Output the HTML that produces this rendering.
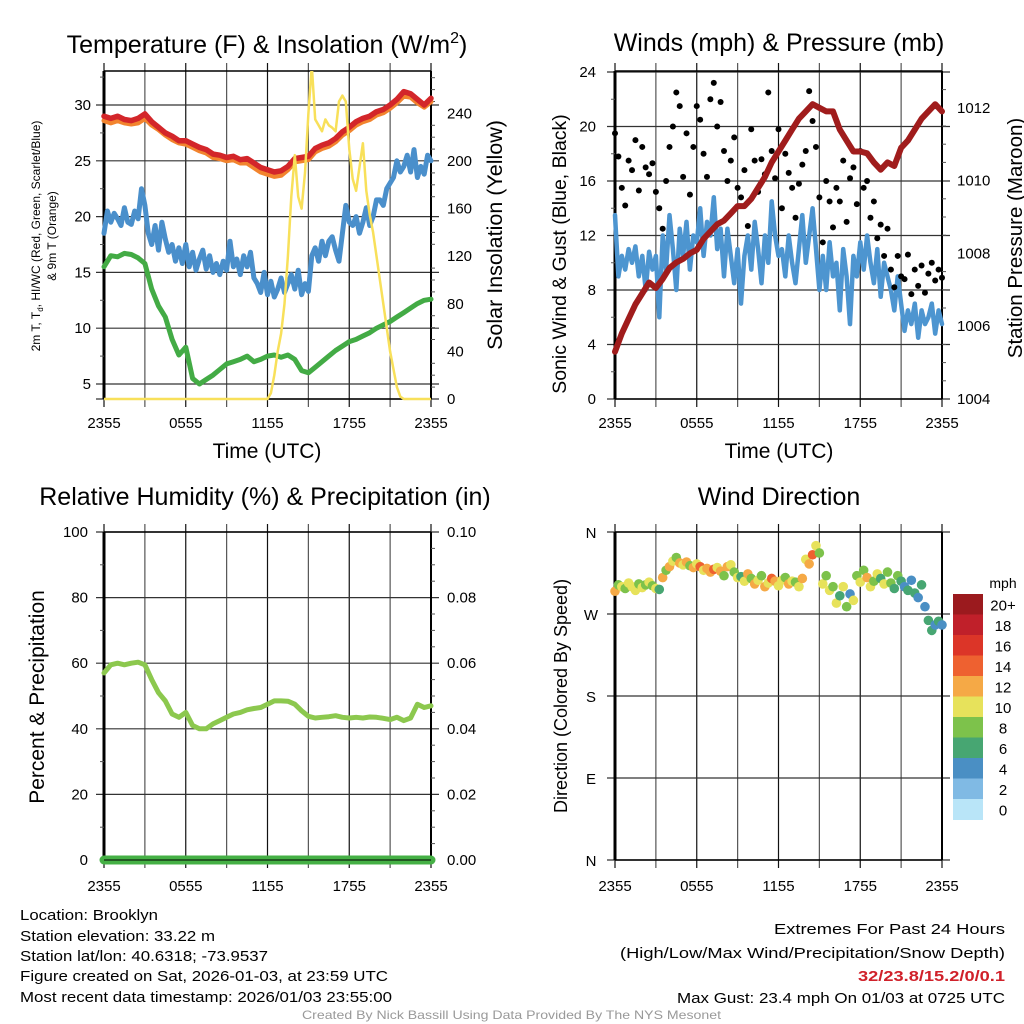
<!DOCTYPE html>
<html><head><meta charset="utf-8"><style>
html,body{margin:0;padding:0;background:#fff;}
svg{display:block;font-family:"Liberation Sans",sans-serif;}
</style></head><body>
<svg id="chart" width="1024" height="1024" viewBox="0 0 1024 1024" xmlns="http://www.w3.org/2000/svg">
<defs>
<clipPath id="clip1"><rect x="104" y="71" width="327" height="330"/></clipPath>
</defs>
<rect width="1024" height="1024" fill="#fff"/>
<g id="p1"></g>
<g id="p2"></g>
<g id="p3"></g>
<g id="p4"></g>

<text x="267" y="53" font-size="25" text-anchor="middle">Temperature (F) &amp; Insolation (W/m<tspan font-size="16" dy="-10">2</tspan><tspan dy="10">)</tspan></text>
<text x="779" y="51" font-size="25" text-anchor="middle">Winds (mph) &amp; Pressure (mb)</text>
<text x="265" y="505" font-size="25" text-anchor="middle">Relative Humidity (%) &amp; Precipitation (in)</text>
<text x="779" y="505" font-size="25" text-anchor="middle">Wind Direction</text>

<text x="267" y="458" font-size="21" text-anchor="middle">Time (UTC)</text>
<text x="779" y="458" font-size="21" text-anchor="middle">Time (UTC)</text>

<text transform="translate(40,236) rotate(-90)" font-size="12" text-anchor="middle">2m T, T<tspan font-size="8" dy="3">d</tspan><tspan dy="-3">, HI/WC (Red, Green, Scarlet/Blue)</tspan></text>
<text transform="translate(56,236) rotate(-90)" font-size="12" text-anchor="middle">&amp; 9m T (Orange)</text>
<text transform="translate(502,235) rotate(-90)" font-size="21.5" text-anchor="middle">Solar Insolation (Yellow)</text>
<text transform="translate(566,254) rotate(-90)" font-size="19.5" text-anchor="middle">Sonic Wind &amp; Gust (Blue, Black)</text>
<text transform="translate(1022,238) rotate(-90)" font-size="20.5" text-anchor="middle">Station Pressure (Maroon)</text>
<text transform="translate(44,697) rotate(-90)" font-size="21" text-anchor="middle">Percent &amp; Precipitation</text>
<text transform="translate(567,696) rotate(-90)" font-size="18" text-anchor="middle">Direction (Colored By Speed)</text>

<g id="cbar"></g>
<text x="1003" y="588" font-size="14" text-anchor="middle">mph</text>

<g font-size="15">
<text x="20" y="920" textLength="138" lengthAdjust="spacingAndGlyphs">Location: Brooklyn</text>
<text x="20" y="941" textLength="195" lengthAdjust="spacingAndGlyphs">Station elevation: 33.22 m</text>
<text x="20" y="961" textLength="248" lengthAdjust="spacingAndGlyphs">Station lat/lon: 40.6318; -73.9537</text>
<text x="20" y="981" textLength="368" lengthAdjust="spacingAndGlyphs">Figure created on Sat, 2026-01-03, at 23:59 UTC</text>
<text x="20" y="1002" textLength="372" lengthAdjust="spacingAndGlyphs">Most recent data timestamp: 2026/01/03 23:55:00</text>
</g>
<g font-size="15">
<text x="774" y="934" textLength="231" lengthAdjust="spacingAndGlyphs">Extremes For Past 24 Hours</text>
<text x="620" y="958" textLength="385" lengthAdjust="spacingAndGlyphs">(High/Low/Max Wind/Precipitation/Snow Depth)</text>
<text x="858" y="981" textLength="147" lengthAdjust="spacingAndGlyphs" fill="#d0212a" font-weight="bold">32/23.8/15.2/0/0.1</text>
<text x="677" y="1003" textLength="328" lengthAdjust="spacingAndGlyphs">Max Gust: 23.4 mph On 01/03 at 0725 UTC</text>
</g>
<text x="302" y="1019" font-size="12" textLength="419" lengthAdjust="spacingAndGlyphs" fill="#999">Created By Nick Bassill Using Data Provided By The NYS Mesonet</text>
</svg>
<script>
// ---- data (half-hourly unless noted) ----
const xTickLabels = ["2355","0555","1155","1755","2355"];
const tempRed = [29,28.8,29,28.7,28.6,28.8,29.2,28.5,28,27.5,27.2,26.8,26.8,26.5,26.2,26,25.6,25.5,25.3,25.4,25.1,25.2,24.8,24.4,24.2,24,24.1,24.5,25.2,25.3,25.4,26.1,26.4,26.6,27,27.6,28,28.5,28.8,29,29.4,29.6,30,30.5,31.2,31,30.5,30,30.6];
const temp9m = [28.6,28.4,28.6,28.4,28.3,28.4,28.8,28.2,27.8,27.3,26.9,26.6,26.5,26.2,25.9,25.7,25.3,25.2,25,25.1,24.8,24.8,24.4,24,23.8,23.6,23.7,24.2,24.9,25,25.1,25.8,26.1,26.3,26.7,27.3,27.7,28.2,28.5,28.7,29.1,29.3,29.7,30.2,30.8,30.7,30.2,29.8,30.3];
const dewGreen = [15.5,16.5,16.4,16.7,16.6,16.3,15.8,13.5,12,11,9,7.6,8.3,5.5,5,5.4,5.8,6.3,6.8,7,7.2,7.5,7,7.2,7.5,7.6,7.4,7.6,7.2,6.2,6,6.5,7,7.5,8,8.4,8.8,9,9.3,9.6,10,10.3,10.6,11,11.4,11.8,12.2,12.5,12.6];
// quarter-hourly
const hiwcBlue = [18.5,20.5,19.5,20.3,19.8, 19.2,20.8,19.5,19.3, 20.5,19.8,22.5,21, 18.5,17.5,19.2,17, 19.5,18,16.8,17.5, 16,17.2,15.8,17.5, 15.5,16.8,15.2,16.2, 17,15.3,16.5,15, 15.8,14.8,16,15.2, 17.8,15.5,16.2,14.8, 16.5,15.5,16.8,14.5, 14,13.2,15,13, 14.2,12.8,13.5,14.5, 13.2,14,14.8,13.5, 15.2,13,14,13.3, 16.5,17.2,16,17.8, 16.5,17.8,18.2,17, 16,18.5,21,19.5, 19.2,20,18.5,19.5, 20.8,19.2,20,21.5, 21.5,21,22.5,23, 23.5,25,24,24.5, 25.5,24,26,23.5, 24.5,23.8,25.5,25];
const solar = [0,0,0,0,0,0,0,0,0,0,0,0,0,0,0,0,0,0,0,0,0,0,0,0,0,0,0,0,0,0,0,0,0,0,0,0,0,0,0,0,0,0,0,0,0,0,0,0, 0,5,20,40,55,80,120,170,205,170,160,190,240,280,235,230,225,235,230,228,225,250,255,250,210,185,175,195,215,175,155,140,120,100,80,60,40,25,10,2,0,0,0,0,0,0,0,0,0];
const pressure = [1005.3,1005.8,1006.2,1006.6,1006.9,1007.2,1007.05,1007.3,1007.6,1007.75,1007.85,1008,1008.1,1008.4,1008.6,1008.8,1008.9,1009.1,1009.3,1009.3,1009.5,1009.8,1010.1,1010.5,1010.8,1011.1,1011.4,1011.7,1011.9,1012.1,1012,1011.9,1011.9,1011.4,1011.1,1010.8,1010.8,1010.75,1010.5,1010.3,1010.5,1010.4,1010.9,1011.1,1011.4,1011.7,1011.9,1012.1,1011.9];
const windSpeed = [13.5,9,10.5,9.5,11, 10,11.2,9,10.5, 8,10.8,9.5,10.5, 6,12,9.5,13.5, 11,8,12.5,10.5, 13,9.5,12,11.5, 14,10.5,13,12, 14.8,11,12.5,9, 12.5,10.5,8.5,11, 7,10.5,12,9.5, 13,11,8.5,12, 10,14.5,12,10.5, 11,9,12,10, 8.5,11,13.5,10, 12,14,11,8, 10.5,8,11.5,9, 10,6.5,11,9, 5.5,10.5,9,11.5, 9.5,12,10,8.5, 11,7.5,10,9, 8,6.5,9,7, 5,6.5,5.5,7, 4.5,6.5,5.5,6, 7,4.8,6.5,5.5];
const windGust = [19.5,17.8,15.5,14.2,17.5, 16.8,19,15.3,18.5, 17,16.5,17.3,15.2, 14,12.5,16,18.5, 20,22.5,21.5,16.3, 19.5,15,18.5,21.5, 20.5,18,16.3,22, 23.2,20,21.8,18.2, 16,17.5,19.2,15.5, 14.8,16.8,12.7,19.8, 17.5,15.2,17.6,16.5, 22.5,18.2,16.2,19.8, 14,18,16.6,15.5, 13.3,15.8,17.2,18.2, 22.6,20.4,18.5,14.8, 11.5,16,14.5,12.6, 15.5,14.5,17.5,13, 16.2,17,14.3,18.2, 15.5,16,13.3,14.5, 11.8,12.8,10.5,12.5, 9.5,8.2,10.5,9, 8.8,10.6,7.7,9.5, 8.3,9.8,7.8,9.2, 10,8.7,9.5,8.9];
const windDir = [295,302,300,298,304, 300,296,303,299, 302,305,301,298, 297,310,318,322, 328,332,326,324, 327,323,321,325, 322,318,320,316, 319,321,317,312, 322,324,316,310, 311,306,314,309, 303,307,312,300, 304,309,306,301, 307,310,303,306, 305,300,309,330, 325,335,345,337, 303,312,296,300, 282,290,300,278, 292,285,312,305, 318,310,300,306, 314,309,303,316, 304,298,312,306, 300,296,307,293, 288,302,278,263, 252,258,262,258];
const rh = [57,59.5,60,59.5,60,60.3,59.5,55,51,48.5,44.5,43.5,45,41,40,40,41.5,42.5,43.5,44.5,45,45.8,46.2,46.5,47.5,48.5,48.5,48.4,47.5,45.5,43.8,43.3,43.5,43.7,44,43.5,43.3,43.5,43.3,43.6,43.5,43.2,42.8,43.5,42.5,43.3,47.5,46.5,47];
const precip = [0,0,0,0,0,0,0,0,0,0,0,0,0,0,0,0,0,0,0,0,0,0,0,0,0,0,0,0,0,0,0,0,0,0,0,0,0,0,0,0,0,0,0,0,0,0,0,0,0];
const cbarLabels = ["20+","18","16","14","12","10","8","6","4","2","0"];
const cbarColors = ["#9b1a1e","#c0202a","#dc3528","#ee6130","#f5a946","#e7e25b","#7dc24b","#47a672","#4a8fc4","#80bae4","#b9e5f8"];

const NS="http://www.w3.org/2000/svg";
function el(tag, parent, attrs){const e=document.createElementNS(NS,tag);for(const k in attrs)e.setAttribute(k,attrs[k]);parent.appendChild(e);return e;}

const P1={x0:104,x1:431,y0:71,y1:399}, P2={x0:615,x1:942,y0:71,y1:399}, P3={x0:104,x1:431,y0:532,y1:860}, P4={x0:615,x1:942,y0:532,y1:860};
const xs=(P)=>h=>P.x0+(P.x1-P.x0)*h/24;

function grid(P,g,hLines){
  for(let k=0;k<=8;k++){const x=P.x0+(P.x1-P.x0)*k/8;
    const l=el('line',g,{x1:x,x2:x,y1:P.y0-8,y2:P.y1+8,stroke:k%2?'#555':'#111','stroke-width':1.2});
    
    }
  hLines.forEach(y=>{const l=el('line',g,{x1:P.x0-8,x2:P.x1+8,y1:y,y2:y,stroke:'#333','stroke-width':1.2});
    
    });
  const L=el('line',g,{x1:P.x0,x2:P.x0,y1:P.y0,y2:P.y1,stroke:'#000','stroke-width':3});
  
  
  const R=el('line',g,{x1:P.x1,x2:P.x1,y1:P.y0,y2:P.y1,stroke:'#000','stroke-width':2});
  
  
  const T=el('line',g,{x1:P.x0,x2:P.x1,y1:P.y0,y2:P.y0,stroke:'#000','stroke-width':1.5});
  
  
  const B=el('line',g,{x1:P.x0,x2:P.x1,y1:P.y1,y2:P.y1,stroke:'#000','stroke-width':1.5});
  
  
}
function xLabels(P,g,y){xTickLabels.forEach((t,i)=>{const x=P.x0+(P.x1-P.x0)*i/4;
  const e=el('text',g,{x:x,y:y,'font-size':15,'text-anchor':'middle'});e.textContent=t;
  
  });}
function yLabel(g,x,y,t,anchor,name){const e=el('text',g,{x:x,y:y+5,'font-size':15,'text-anchor':anchor});e.textContent=t;
  
  }
function tick(g,x1,x2,y){const e=el('line',g,{x1:x1,x2:x2,y1:y,y2:y,stroke:'#555','stroke-width':1});
  
  }
function path(g,vals,X,Y,step,color,w,name){let d='';vals.forEach((v,i)=>{d+=(i?'L':'M')+X(i*step).toFixed(1)+' '+Y(v).toFixed(1);});
  const e=el('path',g,{d:d,fill:'none',stroke:color,'stroke-width':w,'stroke-linejoin':'round','stroke-linecap':'round'});
  
  return e;}

// ---- Panel 1 ----
{const g=document.getElementById('p1'),P=P1,X=xs(P);
 const yT=v=>384-(v-5)*11.16, yS=v=>399-v*1.19;
 grid(P,g,[5,10,15,20,25,30].map(yT).concat([P.y1]));
 [5,10,15,20,25,30].forEach(v=>yLabel(g,91,yT(v),String(v),'end','left-y-tick-label'));
 [0,40,80,120,160,200,240].forEach(v=>yLabel(g,447,yS(v),String(v),'start','right-y-tick-label'));
 for(let v=7.5;v<33;v+=5)tick(g,P.x0-4,P.x0,yT(v));
 for(let v=10;v<275;v+=10)if(v%40)tick(g,P.x1,P.x1+4,yS(v));
 xLabels(P,g,428);
 path(g,temp9m,X,yT,0.5,'#f2842e',5,'temperature-9m-line');
 path(g,tempRed,X,yT,0.5,'#d3262a',5.5,'temperature-2m-line');
 path(g,hiwcBlue,X,yT,0.25,'#4a8fcb',5,'wind-chill-line');
 path(g,dewGreen,X,yT,0.5,'#43ab45',5,'dewpoint-line');
 const s=path(g,solar,X,yS,0.25,'#f8e05a',2.5,'solar-insolation-line');
 s.setAttribute('clip-path','url(#clip1)');
}
// ---- Panel 2 ----
{const g=document.getElementById('p2'),P=P2,X=xs(P);
 const yW=v=>399-v*13.625, yP=v=>399-(v-1004)*36.4;
 grid(P,g,[0,4,8,12,16,20,24].map(yW));
 [0,4,8,12,16,20,24].forEach(v=>yLabel(g,596,yW(v),String(v),'end','left-y-tick-label'));
 [1004,1006,1008,1010,1012].forEach(v=>yLabel(g,957,yP(v),String(v),'start','right-y-tick-label'));
 for(let v=2;v<24;v+=4)tick(g,P.x0-4,P.x0,yW(v));
 for(let v=1004.5;v<1013;v+=0.5)if(v%2)tick(g,P.x1,P.x1+4,yP(v));
 xLabels(P,g,428);
 path(g,windSpeed,X,yW,0.25,'#4d95d0',4.5,'sonic-wind-line');
 windGust.forEach((v,i)=>{const c=el('circle',g,{cx:X(i*0.25),cy:yW(v),r:3,fill:'#000'});
   
   });
 path(g,pressure,X,yP,0.5,'#a01c1c',6,'pressure-line');
}
// ---- Panel 3 ----
{const g=document.getElementById('p3'),P=P3,X=xs(P);
 const yR=v=>860-v*3.28;
 grid(P,g,[20,40,60,80,100].map(yR));
 [0,20,40,60,80,100].forEach(v=>yLabel(g,88,yR(v),String(v),'end','left-y-tick-label'));
 ['0.00','0.02','0.04','0.06','0.08','0.10'].forEach((t,i)=>yLabel(g,447,yR(i*20),t,'start','right-y-tick-label'));
 for(let v=10;v<100;v+=20)tick(g,P.x0-4,P.x0,yR(v));
 for(let v=5;v<100;v+=5)if(v%20)tick(g,P.x1,P.x1+4,yR(v));
 xLabels(P,g,891);
 path(g,precip.map(v=>v*1000),X,yR,0.5,'#45b045',9,'precipitation-line');
 const ax=el('line',g,{x1:P.x0,x2:P.x1,y1:860,y2:860,stroke:'#000','stroke-width':1});
 
 
 path(g,rh,X,yR,0.5,'#8cc84e',5,'relative-humidity-line');
}
// ---- Panel 4 ----
{const g=document.getElementById('p4'),P=P4,X=xs(P);
 const yD=d=>860-d*0.9111;
 grid(P,g,[0,90,180,270,360].map(yD));
 ['N','E','S','W','N'].forEach((t,i)=>{const e=el('text',g,{x:591,y:yD(i*90)+6,'font-size':15,'text-anchor':'middle'});e.textContent=t;
   
   });
 xLabels(P,g,891);
 const colorFor=s=>{let k=Math.floor(s/2);if(k>10)k=10;return cbarColors[10-k];};
 windDir.forEach((d,i)=>{const c=el('circle',g,{cx:X(i*0.25),cy:yD(d),r:4.8,fill:colorFor(windSpeed[i])});
   
   });
}
// ---- Colorbar ----
{const g=document.getElementById('cbar');const y0=594,h=20.5;
 cbarColors.forEach((c,i)=>{const r=el('rect',g,{x:953,y:y0+i*h,width:30,height:h+0.5,fill:c});
   
   
   const t=el('text',g,{x:1003,y:y0+i*h+h/2+6,'font-size':15,'text-anchor':'middle'});t.textContent=cbarLabels[i];
   
   });
}
</script>
</body></html>
